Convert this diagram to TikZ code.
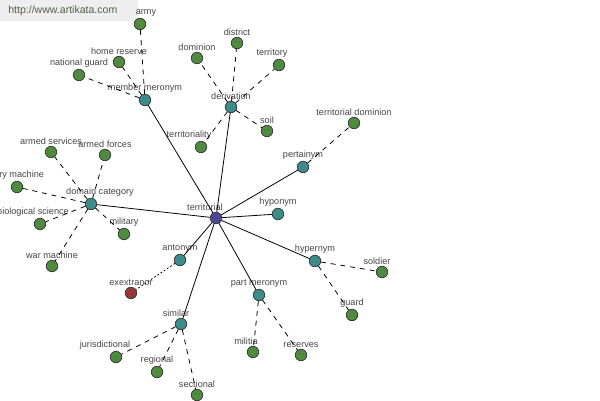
\documentclass[tikz,border=0pt]{standalone}
\usepackage{fontspec}
\setmainfont{Liberation Sans}
\usetikzlibrary{positioning}
\definecolor{wnleaf}{RGB}{78,139,62}
\definecolor{wnrel}{RGB}{60,140,140}
\definecolor{wnroot}{RGB}{72,72,150}
\definecolor{wnanto}{RGB}{150,56,56}
\definecolor{wntext}{RGB}{70,70,70}
\definecolor{wnhead}{RGB}{238,238,238}
\definecolor{wnurl}{RGB}{80,96,70}

\begin{document}
\begin{tikzpicture}[x=0.02cm,y=-0.02cm,
      every node/.style={font=\fontsize{5.2}{6}\selectfont,text=wntext},
      every label/.style={font=\fontsize{5.2}{6}\selectfont,text=wntext,inner sep=0.5pt},
      dot/.style={circle,draw=black!80,line width=0.4pt,minimum size=0.23cm,inner sep=0pt,
                  label distance=-0.5pt},
      root/.style={dot,fill=wnroot},
      rel/.style={dot,fill=wnrel},
      leaf/.style={dot,fill=wnleaf},
      anto/.style={dot,fill=wnanto},
      link/.style={line width=0.45pt},
      sub/.style={line width=0.45pt,dash pattern=on 2.8pt off 2.8pt},
      opp/.style={line width=0.45pt,dash pattern=on 1pt off 1.2pt}]
    \useasboundingbox (0,0) rectangle (600,400);
    \fill[white] (0,0) rectangle (600,400);
    \node[fill=wnhead,minimum width=2.76cm,minimum height=0.42cm,anchor=north west,inner sep=0pt] (head) at (0,0) {};
    \node[font=\fontsize{6}{7}\selectfont,text=wnurl,anchor=west,inner sep=0pt] (url) at (8,11) {http://www.artikata.com};
    % relation nodes
    \node[root,label={[xshift=-0.22cm]above:territorial}] (terr) at (216,218) {};
    \node[rel,label={above:member meronym}] (mem) at (145,100) {};
    \node[rel,label={above:derivation}] (der) at (231,107) {};
    \node[rel,label={above:pertainym}] (per) at (303,167) {};
    \node[rel,label={above:hyponym}] (hypo) at (278,214) {};
    \node[rel,label={above:hypernym}] (hyper) at (315,261) {};
    \node[rel,label={above:part meronym}] (part) at (259,295) {};
    \node[rel,label={[xshift=-0.1cm]above:similar}] (sim) at (181,324) {};
    \node[rel,label={above:antonym}] (ant) at (180,260) {};
    \node[rel,label={[xshift=0.18cm]above:domain category}] (dom) at (91,204) {};
    % leaves
    \node[leaf,label={[xshift=0.12cm]above:army}] (army) at (140,24) {};
    \node[leaf,label={above:home reserve}] (home) at (119,62) {};
    \node[leaf,label={above:national guard}] (natg) at (79,75) {};
    \node[leaf,label={above:district}] (dist) at (237,43) {};
    \node[leaf,label={above:dominion}] (domn) at (197,58) {};
    \node[leaf,label={[xshift=-0.14cm]above:territory}] (tory) at (279,65) {};
    \node[leaf,label={above:soil}] (soil) at (267,131) {};
    \node[leaf,label={[xshift=-0.24cm]above:territoriality}] (tity) at (201,147) {};
    \node[leaf,label={above:territorial dominion}] (tdom) at (354,123) {};
    \node[leaf,label={[xshift=-0.1cm]above:soldier}] (sold) at (382,272) {};
    \node[leaf,label={above:guard}] (guard) at (352,315) {};
    \node[leaf,label={[xshift=-0.14cm]above:militia}] (mili) at (253,352) {};
    \node[leaf,label={above:reserves}] (resv) at (301,355) {};
    \node[leaf,label={[xshift=-0.22cm]above:jurisdictional}] (juri) at (116,357) {};
    \node[leaf,label={above:regional}] (regn) at (157,372) {};
    \node[leaf,label={above:sectional}] (sect) at (197,395) {};
    \node[anto,label={above:exextranor}] (extra) at (131,293) {};
    \node[leaf,label={above:armed services}] (arms) at (51,152) {};
    \node[leaf,label={above:armed forces}] (armf) at (105,155) {};
    \node[leaf,label={[xshift=-0.12cm]above:military machine}] (mmac) at (17,187) {};
    \node[leaf,label={[xshift=-0.14cm]above:biological science}] (bios) at (40,224) {};
    \node[leaf,label={above:war machine}] (warm) at (52,266) {};
    \node[leaf,label={above:military}] (mil) at (124,234) {};
    % connectors
    \foreach \r in {mem,der,per,hypo,hyper,part,sim,ant,dom}
      \draw[link] (terr) -- (\r);
    \foreach \l in {army,home,natg}
      \draw[sub] (mem) -- (\l);
    \foreach \l in {dist,domn,tory,soil,tity}
      \draw[sub] (der) -- (\l);
    \draw[sub] (per) -- (tdom);
    \draw[sub] (hyper) -- (sold);
    \draw[sub] (hyper) -- (guard);
    \draw[sub] (part) -- (mili);
    \draw[sub] (part) -- (resv);
    \foreach \l in {juri,regn,sect}
      \draw[sub] (sim) -- (\l);
    \draw[opp] (ant) -- (extra);
    \foreach \l in {arms,armf,mmac,bios,warm,mil}
      \draw[sub] (dom) -- (\l);
  \end{tikzpicture}
\end{document}
